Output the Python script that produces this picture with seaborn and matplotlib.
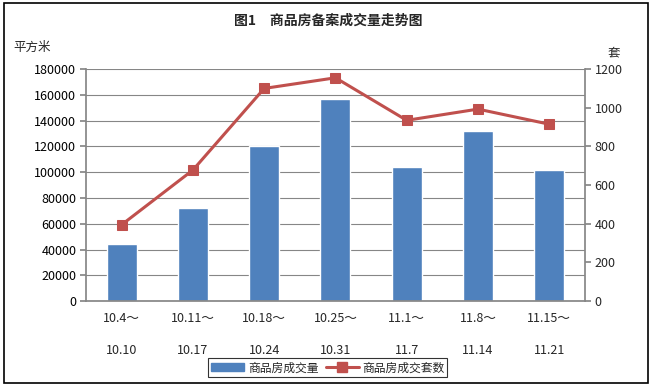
import matplotlib
matplotlib.use("Agg")
import matplotlib.pyplot as plt
import seaborn as sns
import pandas as pd
from matplotlib.patches import Rectangle
from matplotlib.lines import Line2D
from matplotlib.patches import Patch

categories = ["10.4～\n\n10.10", "10.11～\n\n10.17", "10.18～\n\n10.24", "10.25～\n\n10.31",
              "11.1～\n\n11.7", "11.8～\n\n11.14", "11.15～\n\n11.21"]
area_values = [44000, 72000, 120000, 157000, 104000, 132000, 102000]
unit_values = [395, 678, 1100, 1155, 935, 993, 915]
series_bar = "商品房成交量"
series_line = "商品房成交套数"

sns.set_theme(style="white")
plt.rcParams['font.family'] = ['Noto Sans CJK SC', 'DejaVu Sans']

df = pd.DataFrame({"cat": categories, "area": area_values, "units": unit_values})
df["pos"] = range(len(categories))

fig = plt.figure(figsize=(6.52, 3.86), dpi=100)
ax = fig.add_axes([0.132, 0.220, 0.765, 0.601])
bar_color = "#4F81BD"
line_color = "#C0504D"
grid_color = "#868686"

sns.barplot(data=df, x="cat", y="area", color=bar_color, width=0.42, ax=ax, saturation=1)
ax.set_ylim(0, 180000)
ax.set_yticks(range(0, 180001, 20000))
ax.yaxis.grid(True, color=grid_color, linewidth=0.8)
ax.set_axisbelow(True)
ax.set_xlim(-0.5, len(categories) - 0.5)
ax.set_xlabel("")
ax.set_ylabel("")
for s in ["top", "right"]:
    ax.spines[s].set_visible(False)
ax.spines["left"].set_color(grid_color)
ax.spines["bottom"].set_color(grid_color)
ax.tick_params(axis="y", labelsize=9, colors="black", length=4, direction="out", left=True, color=grid_color, pad=3)
ax.tick_params(axis="x", labelsize=9, length=0, pad=8)
for lab in ax.get_xticklabels():
    lab.set_linespacing(1.3)

ax2 = ax.twinx()
sns.lineplot(data=df, x="pos", y="units", color=line_color, linewidth=2.2, marker="s",
             markersize=6.5, markeredgecolor=line_color, ax=ax2)
ax2.set_ylim(0, 1200)
ax2.set_yticks(range(0, 1201, 200))
ax2.set_xlim(-0.5, len(categories) - 0.5)
ax2.set_ylabel("")
ax2.set_xlabel("")
for s in ["top", "left", "bottom"]:
    ax2.spines[s].set_visible(False)
ax2.spines["right"].set_color(grid_color)
ax2.tick_params(axis="y", labelsize=9, length=4, direction="out", right=True, color=grid_color, pad=3)

fig.text(0.503, 0.946, "图1　商品房备案成交量走势图", ha="center", va="center", fontsize=10, fontweight="bold")
fig.text(0.020, 0.876, "平方米", ha="left", va="center", fontsize=9)
fig.text(0.942, 0.862, "套", ha="center", va="center", fontsize=9)

handles = [Patch(facecolor=bar_color, edgecolor=bar_color),
           Line2D([0], [0], color=line_color, linewidth=2.2, marker="s", markersize=7)]
leg = fig.legend(handles, [series_bar, series_line], loc="center", bbox_to_anchor=(0.503, 0.047),
                 ncol=2, fontsize=8.5, frameon=True, fancybox=False, borderpad=0.25,
                 handlelength=2.8, handletextpad=0.3, columnspacing=0.6, borderaxespad=0)
leg.get_frame().set_edgecolor("black")
leg.get_frame().set_linewidth(0.8)

fig.patches.append(Rectangle((0.006, 0.008), 0.988, 0.984, transform=fig.transFigure,
                             fill=False, edgecolor="black", linewidth=1.2))

fig.savefig("out.png", dpi=100)
